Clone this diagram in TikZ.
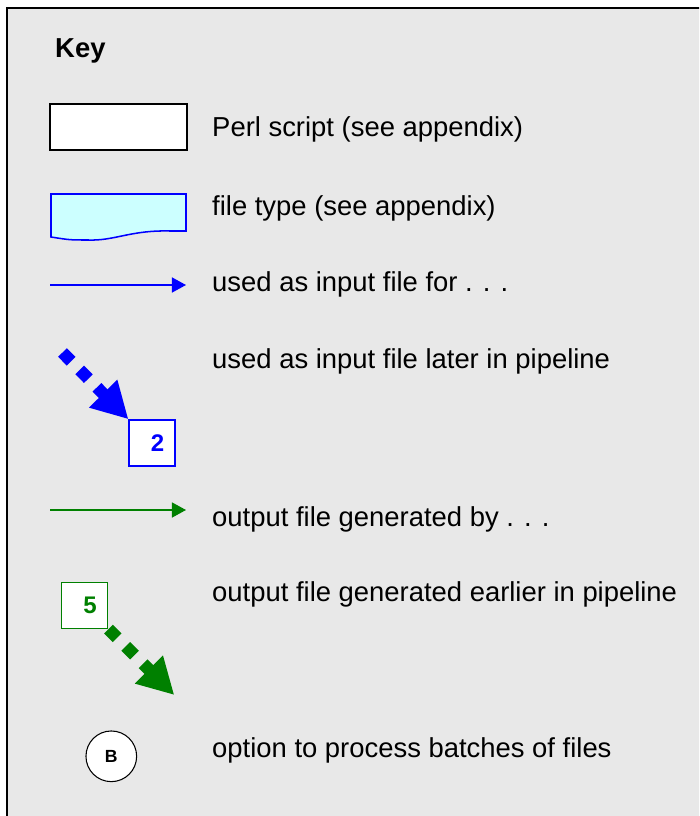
\documentclass[tikz,border=0pt]{standalone}
\usepackage{fontspec}
\setmainfont{Liberation Sans}
\usetikzlibrary{arrows.meta}

\definecolor{keygrey}{RGB}{232,232,232}
\definecolor{filecyan}{RGB}{204,255,255}
\definecolor{outgreen}{RGB}{0,128,0}

\begin{document}
\begin{tikzpicture}[x=0.03cm,y=-0.03cm,
    every node/.style={font=\fontsize{23.4}{28}\selectfont},
    keytext/.style={anchor=base west,inner sep=0pt},
    numbox/.style={draw,fill=white,line width=1.3pt,minimum size=1.38cm,inner sep=0pt,
                   font=\fontsize{20.5}{24}\selectfont\bfseries},
    thinarrow/.style={line width=1.3pt,-{Triangle[length=12pt,width=12.8pt]}},
    fatarrow/.style={line width=10.5pt,dash pattern=on 10.5pt off 10.4pt,
                     -{Triangle[length=30.7pt,width=31.6pt]}}]
    \useasboundingbox (0,0) rectangle (699,816);
    \clip (0,0) rectangle (699,816);
    \draw[line width=1.7pt,fill=keygrey] (7,8) rectangle (730,840);

    \node[keytext,font=\fontsize{23.4}{28}\selectfont\bfseries] (keyhead) at (55,58) {Key};

    % symbols
    \node[draw,fill=white,line width=1.3pt,minimum width=4.11cm,minimum height=1.38cm,
          inner sep=0pt] (perl) at (118.5,127) {};
    \draw[blue,line width=1.3pt,fill=filecyan] (51,194) -- (186,194) -- (186,231) -- (170,231)
        .. controls (130,230) and (115,241) .. (88,240) .. controls (70,240) .. (51,237) -- cycle;

    \coordinate (inA) at (50,285);
    \coordinate (inB) at (186,285);
    \draw[thinarrow,blue] (inA) -- (inB);

    \node[numbox,draw=blue,text=blue] (box2) at (152.2,443) {\hspace{9pt}2};
    \coordinate (laterA) at (62.5,352.5);
    \draw[fatarrow,blue] (laterA) -- (box2.north west);

    \coordinate (outA) at (50,510);
    \coordinate (outB) at (186,510);
    \draw[thinarrow,outgreen] (outA) -- (outB);

    \node[numbox,draw=outgreen,text=outgreen] (box5) at (84.7,605.3) {\hspace{9pt}5};
    \coordinate (earlyB) at (174.3,695);
    \draw[fatarrow,outgreen] (box5.south east) -- (earlyB);

    \node[circle,draw,fill=white,line width=0.9pt,minimum size=1.52cm,inner sep=0pt,
          font=\fontsize{15}{18}\selectfont\bfseries] (batch) at (111.3,756.3) {B};

    % descriptions
    \node[keytext] (perltxt) at (212,136.7) {Perl script (see appendix)};
    \node[keytext] (filetxt) at (212,215.5) {file type (see appendix)};
    \node[keytext] (intxt) at (212,291.5) {used as input file for . . .};
    \node[keytext] (latertxt) at (212,368) {used as input file later in pipeline};
    \node[keytext] (outtxt) at (212,526) {output file generated by . . .};
    \node[keytext] (earlytxt) at (212,601.7) {output file generated earlier in pipeline};
    \node[keytext] (batchtxt) at (212,757) {option to process batches of files};
\end{tikzpicture}
\end{document}
